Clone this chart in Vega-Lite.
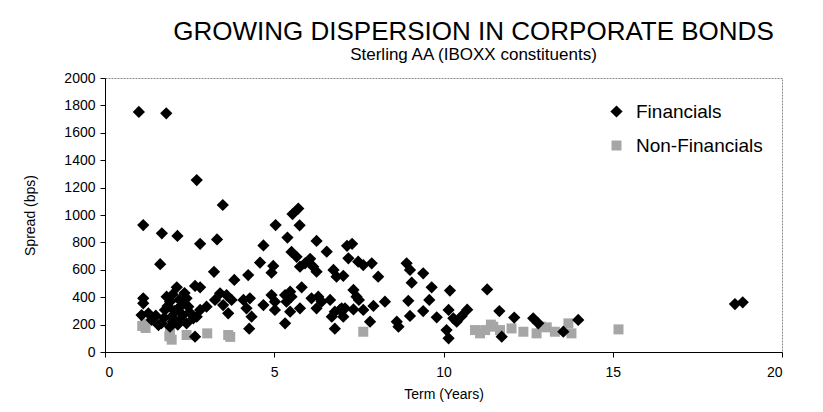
{
  "$schema": "https://vega.github.io/schema/vega-lite/v6.json",
  "autosize": "none",
  "width": 677,
  "height": 274,
  "padding": {"left": 105, "top": 78, "right": 41, "bottom": 60},
  "background": "white",
  "config": {
    "font": "Liberation Sans",
    "view": {"stroke": "#888888", "strokeDash": [2, 1], "strokeWidth": 1},
    "axis": {"grid": false, "domainColor": "black", "tickColor": "black", "labelColor": "black", "titleColor": "black", "labelFont": "Liberation Sans", "titleFont": "Liberation Sans", "labelFontSize": 14, "titleFontWeight": "normal", "titleFontSize": 14}
  },
  "title": {
    "text": "GROWING DISPERSION IN CORPORATE BONDS",
    "subtitle": "Sterling AA (IBOXX constituents)",
    "anchor": "middle",
    "frame": "group",
    "dx": 30,
    "offset": 8,
    "subtitlePadding": 2,
    "font": "Liberation Sans",
    "fontSize": 26,
    "fontWeight": "normal",
    "color": "black",
    "subtitleFont": "Liberation Sans",
    "subtitleFontSize": 17,
    "subtitleColor": "black"
  },
  "data": {"values": [
    {"series": "Financials", "term": 1.00, "spread": 1752},
    {"series": "Financials", "term": 1.81, "spread": 1742},
    {"series": "Financials", "term": 2.71, "spread": 1255},
    {"series": "Financials", "term": 3.48, "spread": 1073},
    {"series": "Financials", "term": 1.13, "spread": 927},
    {"series": "Financials", "term": 1.68, "spread": 866},
    {"series": "Financials", "term": 2.14, "spread": 847},
    {"series": "Financials", "term": 2.81, "spread": 790},
    {"series": "Financials", "term": 3.31, "spread": 822},
    {"series": "Financials", "term": 1.63, "spread": 641},
    {"series": "Financials", "term": 3.22, "spread": 585},
    {"series": "Financials", "term": 3.82, "spread": 526},
    {"series": "Financials", "term": 4.23, "spread": 562},
    {"series": "Financials", "term": 4.58, "spread": 653},
    {"series": "Financials", "term": 4.68, "spread": 778},
    {"series": "Financials", "term": 5.04, "spread": 927},
    {"series": "Financials", "term": 5.39, "spread": 835},
    {"series": "Financials", "term": 5.54, "spread": 1007},
    {"series": "Financials", "term": 5.71, "spread": 1047},
    {"series": "Financials", "term": 5.75, "spread": 925},
    {"series": "Financials", "term": 6.25, "spread": 811},
    {"series": "Financials", "term": 6.55, "spread": 732},
    {"series": "Financials", "term": 5.51, "spread": 730},
    {"series": "Financials", "term": 5.66, "spread": 695},
    {"series": "Financials", "term": 6.06, "spread": 680},
    {"series": "Financials", "term": 7.15, "spread": 775},
    {"series": "Financials", "term": 7.30, "spread": 790},
    {"series": "Financials", "term": 7.19, "spread": 684},
    {"series": "Financials", "term": 5.91, "spread": 647},
    {"series": "Financials", "term": 5.76, "spread": 623},
    {"series": "Financials", "term": 6.15, "spread": 623},
    {"series": "Financials", "term": 6.25, "spread": 586},
    {"series": "Financials", "term": 4.97, "spread": 628},
    {"series": "Financials", "term": 4.92, "spread": 579},
    {"series": "Financials", "term": 6.75, "spread": 599},
    {"series": "Financials", "term": 6.84, "spread": 550},
    {"series": "Financials", "term": 7.04, "spread": 556},
    {"series": "Financials", "term": 7.48, "spread": 659},
    {"series": "Financials", "term": 7.63, "spread": 635},
    {"series": "Financials", "term": 7.88, "spread": 647},
    {"series": "Financials", "term": 8.07, "spread": 550},
    {"series": "Financials", "term": 8.91, "spread": 647},
    {"series": "Financials", "term": 9.01, "spread": 599},
    {"series": "Financials", "term": 9.40, "spread": 574},
    {"series": "Financials", "term": 9.06, "spread": 506},
    {"series": "Financials", "term": 9.65, "spread": 472},
    {"series": "Financials", "term": 10.19, "spread": 448},
    {"series": "Financials", "term": 7.34, "spread": 453},
    {"series": "Financials", "term": 7.43, "spread": 404},
    {"series": "Financials", "term": 7.50, "spread": 380},
    {"series": "Financials", "term": 6.99, "spread": 319},
    {"series": "Financials", "term": 7.34, "spread": 311},
    {"series": "Financials", "term": 7.63, "spread": 307},
    {"series": "Financials", "term": 7.93, "spread": 336},
    {"series": "Financials", "term": 8.27, "spread": 367},
    {"series": "Financials", "term": 7.04, "spread": 258},
    {"series": "Financials", "term": 8.96, "spread": 374},
    {"series": "Financials", "term": 9.58, "spread": 380},
    {"series": "Financials", "term": 9.40, "spread": 299},
    {"series": "Financials", "term": 9.01, "spread": 263},
    {"series": "Financials", "term": 9.80, "spread": 253},
    {"series": "Financials", "term": 10.15, "spread": 307},
    {"series": "Financials", "term": 10.29, "spread": 246},
    {"series": "Financials", "term": 10.39, "spread": 221},
    {"series": "Financials", "term": 10.54, "spread": 263},
    {"series": "Financials", "term": 10.70, "spread": 309},
    {"series": "Financials", "term": 7.83, "spread": 221},
    {"series": "Financials", "term": 8.62, "spread": 221},
    {"series": "Financials", "term": 8.67, "spread": 185},
    {"series": "Financials", "term": 10.09, "spread": 160},
    {"series": "Financials", "term": 10.15, "spread": 100},
    {"series": "Financials", "term": 11.29, "spread": 457},
    {"series": "Financials", "term": 11.65, "spread": 299},
    {"series": "Financials", "term": 12.09, "spread": 251},
    {"series": "Financials", "term": 12.65, "spread": 246},
    {"series": "Financials", "term": 12.80, "spread": 209},
    {"series": "Financials", "term": 13.98, "spread": 234},
    {"series": "Financials", "term": 13.54, "spread": 148},
    {"series": "Financials", "term": 11.72, "spread": 112},
    {"series": "Financials", "term": 18.61, "spread": 350},
    {"series": "Financials", "term": 18.84, "spread": 363},
    {"series": "Financials", "term": 5.81, "spread": 472},
    {"series": "Financials", "term": 3.40, "spread": 428},
    {"series": "Financials", "term": 3.59, "spread": 416},
    {"series": "Financials", "term": 3.74, "spread": 380},
    {"series": "Financials", "term": 3.49, "spread": 343},
    {"series": "Financials", "term": 3.64, "spread": 282},
    {"series": "Financials", "term": 4.09, "spread": 380},
    {"series": "Financials", "term": 4.28, "spread": 392},
    {"series": "Financials", "term": 4.18, "spread": 319},
    {"series": "Financials", "term": 4.33, "spread": 258},
    {"series": "Financials", "term": 4.68, "spread": 343},
    {"series": "Financials", "term": 4.92, "spread": 416},
    {"series": "Financials", "term": 5.02, "spread": 367},
    {"series": "Financials", "term": 5.02, "spread": 307},
    {"series": "Financials", "term": 5.32, "spread": 416},
    {"series": "Financials", "term": 5.47, "spread": 440},
    {"series": "Financials", "term": 5.51, "spread": 404},
    {"series": "Financials", "term": 5.36, "spread": 367},
    {"series": "Financials", "term": 5.76, "spread": 319},
    {"series": "Financials", "term": 5.47, "spread": 294},
    {"series": "Financials", "term": 5.32, "spread": 209},
    {"series": "Financials", "term": 4.26, "spread": 170},
    {"series": "Financials", "term": 6.10, "spread": 392},
    {"series": "Financials", "term": 6.30, "spread": 404},
    {"series": "Financials", "term": 6.40, "spread": 367},
    {"series": "Financials", "term": 6.65, "spread": 380},
    {"series": "Financials", "term": 6.25, "spread": 319},
    {"series": "Financials", "term": 6.79, "spread": 294},
    {"series": "Financials", "term": 6.94, "spread": 307},
    {"series": "Financials", "term": 7.09, "spread": 319},
    {"series": "Financials", "term": 6.70, "spread": 258},
    {"series": "Financials", "term": 6.79, "spread": 170},
    {"series": "Financials", "term": 2.12, "spread": 472},
    {"series": "Financials", "term": 2.66, "spread": 482},
    {"series": "Financials", "term": 2.81, "spread": 472},
    {"series": "Financials", "term": 1.13, "spread": 392},
    {"series": "Financials", "term": 1.13, "spread": 355},
    {"series": "Financials", "term": 1.08, "spread": 270},
    {"series": "Financials", "term": 1.28, "spread": 282},
    {"series": "Financials", "term": 1.38, "spread": 234},
    {"series": "Financials", "term": 1.58, "spread": 197},
    {"series": "Financials", "term": 1.82, "spread": 404},
    {"series": "Financials", "term": 1.92, "spread": 367},
    {"series": "Financials", "term": 1.77, "spread": 307},
    {"series": "Financials", "term": 1.97, "spread": 258},
    {"series": "Financials", "term": 2.12, "spread": 307},
    {"series": "Financials", "term": 2.27, "spread": 343},
    {"series": "Financials", "term": 2.41, "spread": 392},
    {"series": "Financials", "term": 2.46, "spread": 331},
    {"series": "Financials", "term": 2.22, "spread": 234},
    {"series": "Financials", "term": 2.41, "spread": 209},
    {"series": "Financials", "term": 2.61, "spread": 246},
    {"series": "Financials", "term": 2.71, "spread": 258},
    {"series": "Financials", "term": 1.92, "spread": 185},
    {"series": "Financials", "term": 1.67, "spread": 210},
    {"series": "Financials", "term": 2.66, "spread": 112},
    {"series": "Financials", "term": 2.81, "spread": 307},
    {"series": "Financials", "term": 3.00, "spread": 331},
    {"series": "Financials", "term": 3.25, "spread": 380},
    {"series": "Financials", "term": 2.00, "spread": 420},
    {"series": "Financials", "term": 2.05, "spread": 300},
    {"series": "Financials", "term": 2.20, "spread": 380},
    {"series": "Financials", "term": 2.30, "spread": 270},
    {"series": "Financials", "term": 1.85, "spread": 335},
    {"series": "Financials", "term": 2.00, "spread": 220},
    {"series": "Financials", "term": 2.35, "spread": 430},
    {"series": "Financials", "term": 2.50, "spread": 290},
    {"series": "Financials", "term": 1.75, "spread": 250},
    {"series": "Financials", "term": 2.15, "spread": 200},
    {"series": "Financials", "term": 1.50, "spread": 265},
    {"series": "Non-Financials", "term": 1.18, "spread": 209},
    {"series": "Non-Financials", "term": 1.20, "spread": 175},
    {"series": "Non-Financials", "term": 1.10, "spread": 190},
    {"series": "Non-Financials", "term": 1.92, "spread": 148},
    {"series": "Non-Financials", "term": 1.97, "spread": 90},
    {"series": "Non-Financials", "term": 1.90, "spread": 115},
    {"series": "Non-Financials", "term": 2.41, "spread": 124},
    {"series": "Non-Financials", "term": 3.02, "spread": 136},
    {"series": "Non-Financials", "term": 3.64, "spread": 124},
    {"series": "Non-Financials", "term": 3.70, "spread": 110},
    {"series": "Non-Financials", "term": 7.63, "spread": 148},
    {"series": "Non-Financials", "term": 10.93, "spread": 160},
    {"series": "Non-Financials", "term": 11.08, "spread": 136},
    {"series": "Non-Financials", "term": 11.23, "spread": 160},
    {"series": "Non-Financials", "term": 11.40, "spread": 200},
    {"series": "Non-Financials", "term": 11.47, "spread": 185},
    {"series": "Non-Financials", "term": 11.67, "spread": 160},
    {"series": "Non-Financials", "term": 12.01, "spread": 172},
    {"series": "Non-Financials", "term": 12.36, "spread": 148},
    {"series": "Non-Financials", "term": 12.75, "spread": 136},
    {"series": "Non-Financials", "term": 12.88, "spread": 185},
    {"series": "Non-Financials", "term": 13.05, "spread": 180},
    {"series": "Non-Financials", "term": 13.29, "spread": 148},
    {"series": "Non-Financials", "term": 13.69, "spread": 209},
    {"series": "Non-Financials", "term": 13.78, "spread": 136},
    {"series": "Non-Financials", "term": 15.17, "spread": 165}
  ]},
  "mark": {"type": "point", "filled": true, "opacity": 1},
  "encoding": {
    "x": {"field": "term", "type": "quantitative", "title": "Term (Years)",
      "scale": {"domain": [0, 20], "nice": false, "zero": true},
      "axis": {"values": [0, 5, 10, 15, 20], "tickSize": 5, "labelPadding": 8, "titlePadding": 8}},
    "y": {"field": "spread", "type": "quantitative", "title": "Spread (bps)",
      "scale": {"domain": [0, 2000], "nice": false},
      "axis": {"values": [0, 200, 400, 600, 800, 1000, 1200, 1400, 1600, 1800, 2000], "format": "d", "tickSize": 5, "labelPadding": 5, "titlePadding": 26, "titleFontSize": 14}},
    "shape": {"field": "series", "type": "nominal",
      "scale": {"domain": ["Financials", "Non-Financials"], "range": ["diamond", "square"]},
      "legend": {"title": null, "orient": "none", "legendX": 502, "legendY": 24, "labelFontSize": 19, "labelColor": "black", "labelFont": "Liberation Sans", "symbolSize": 70, "rowPadding": 14, "labelOffset": 10}},
    "color": {"field": "series", "type": "nominal",
      "scale": {"domain": ["Financials", "Non-Financials"], "range": ["#000000", "#a6a6a6"]},
      "legend": {"title": null, "orient": "none", "legendX": 502, "legendY": 24, "labelFontSize": 19, "labelColor": "black", "labelFont": "Liberation Sans", "symbolSize": 70, "rowPadding": 14, "labelOffset": 10}},
    "size": {"field": "series", "type": "nominal",
      "scale": {"domain": ["Financials", "Non-Financials"], "range": [150, 100]},
      "legend": null},
    "order": {"field": "series", "sort": "descending"}
  }
}
